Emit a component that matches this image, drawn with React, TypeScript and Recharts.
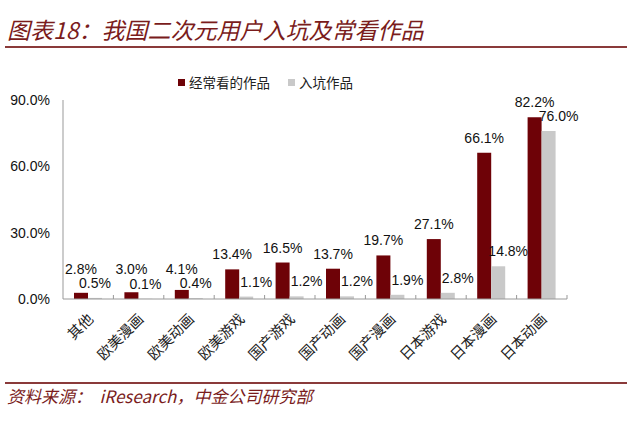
import React from 'react';
import { BarChart, Bar, XAxis, YAxis, Legend, LabelList } from 'recharts';

const categories = ['其他', '欧美漫画', '欧美动画', '欧美游戏', '国产游戏', '国产动画', '国产漫画', '日本游戏', '日本漫画', '日本动画'];
const oftenWatched = [2.8, 3.0, 4.1, 13.4, 16.5, 13.7, 19.7, 27.1, 66.1, 82.2];
const entryWorks = [0.5, 0.1, 0.4, 1.1, 1.2, 1.2, 1.9, 2.8, 14.8, 76.0];
const yTicks = [0, 30, 60, 90];

const data = categories.map((c, i) => ({ name: c, often: oftenWatched[i], entry: entryWorks[i] }));

const RED = '#6e0207';
const GRAY = '#c9c9c9';
const TITLE = '#7a1c1c';
const NUM_FONT = '"Liberation Sans", Arial, sans-serif';
const CJK_FONT = '"Noto Sans CJK SC", sans-serif';

const XTick = (props: any) => {
  const { x, y, payload } = props;
  const half = payload && typeof payload.offset === 'number' && payload.offset > 0 ? payload.offset : 25.2;
  const ax = x + 6;
  const ay = y + 21;
  return (
    <g>
      <line x1={x + half} x2={x + half} y1={y} y2={y - 4} stroke="#999" strokeWidth={1} />
      <text
        x={ax}
        y={ay}
        transform={`rotate(-45, ${ax}, ${ay})`}
        textAnchor="end"
        fontSize={14.5}
        fontFamily={CJK_FONT}
        fill="#222"
      >
        {payload.value}
      </text>
    </g>
  );
};

const RedLabel = (props: any) => {
  const { x, y, width, height, value } = props;
  const cy = Math.min(y - 15, y + height - 30);
  return (
    <text x={x + width / 2} y={cy} dy={5} textAnchor="middle" fontSize={14} fontFamily={NUM_FONT} fill="#111">
      {Number(value).toFixed(1)}%
    </text>
  );
};

const GrayLabel = (props: any) => {
  const { x, y, width, value, index } = props;
  const shift = index >= 3 ? 10 : 0;
  return (
    <text x={x + width / 2 + shift} y={y - 15} dy={5} textAnchor="middle" fontSize={14} fontFamily={NUM_FONT} fill="#111">
      {Number(value).toFixed(1)}%
    </text>
  );
};

const LegendContent = () => (
  <div style={{ display: 'flex', alignItems: 'center', fontFamily: CJK_FONT, fontSize: 13.5, color: '#222' }}>
    <span style={{ display: 'inline-block', width: 7, height: 7, background: RED, marginRight: 4 }} />
    <span style={{ marginRight: 18 }}>经常看的作品</span>
    <span style={{ display: 'inline-block', width: 7, height: 7, background: GRAY, marginRight: 4 }} />
    <span>入坑作品</span>
  </div>
);

export default function App() {
  return (
    <div style={{ position: 'absolute', left: 0, top: 0, width: 640, height: 429, background: '#fff', overflow: 'hidden' }}>
      <div
        style={{
          position: 'absolute',
          left: 7,
          top: 15,
          fontFamily: CJK_FONT,
          fontStyle: 'italic',
          fontSize: 23,
          color: TITLE,
          whiteSpace: 'nowrap',
          lineHeight: '28px',
        }}
      >
        图表18：我国二次元用户入坑及常看作品
      </div>
      <div style={{ position: 'absolute', left: 5, top: 46, width: 622, height: 1.5, background: '#8a3a3a' }} />
      <div style={{ position: 'absolute', left: 0, top: 0 }}>
        <BarChart
          width={640}
          height={429}
          data={data}
          margin={{ top: 80, right: 73, bottom: 70, left: 8 }}
          barSize={14}
          barGap={0}
        >
          <XAxis
            dataKey="name"
            interval={0}
            tickLine={false}
            tickSize={0}
            tickMargin={0}
            height={60}
            axisLine={{ stroke: '#999' }}
            tick={<XTick />}
          />
          <YAxis
            domain={[0, 90]}
            ticks={yTicks}
            width={55}
            tickLine={false}
            tickSize={6}
            tickMargin={7}
            axisLine={{ stroke: '#999' }}
            tickFormatter={(v: number) => v.toFixed(1) + '%'}
            tick={{ fontSize: 14, fontFamily: NUM_FONT, fill: '#111' }}
          />
          <Legend
            verticalAlign="top"
            align="left"
            content={<LegendContent />}
            wrapperStyle={{ position: 'absolute', top: 72, left: 178, width: 'auto' }}
          />
          <Bar dataKey="often" name="经常看的作品" fill={RED} isAnimationActive={false}>
            <LabelList dataKey="often" content={<RedLabel />} />
          </Bar>
          <Bar dataKey="entry" name="入坑作品" fill={GRAY} isAnimationActive={false}>
            <LabelList dataKey="entry" content={<GrayLabel />} />
          </Bar>
        </BarChart>
      </div>
      <div style={{ position: 'absolute', left: 5, top: 382, width: 622, height: 1.5, background: '#8a3a3a' }} />
      <div
        style={{
          position: 'absolute',
          left: 7,
          top: 385,
          fontFamily: CJK_FONT,
          fontStyle: 'italic',
          fontSize: 17,
          color: TITLE,
          whiteSpace: 'nowrap',
          lineHeight: '22px',
        }}
      >
        资料来源：&nbsp;&nbsp;iResearch，中金公司研究部
      </div>
    </div>
  );
}
